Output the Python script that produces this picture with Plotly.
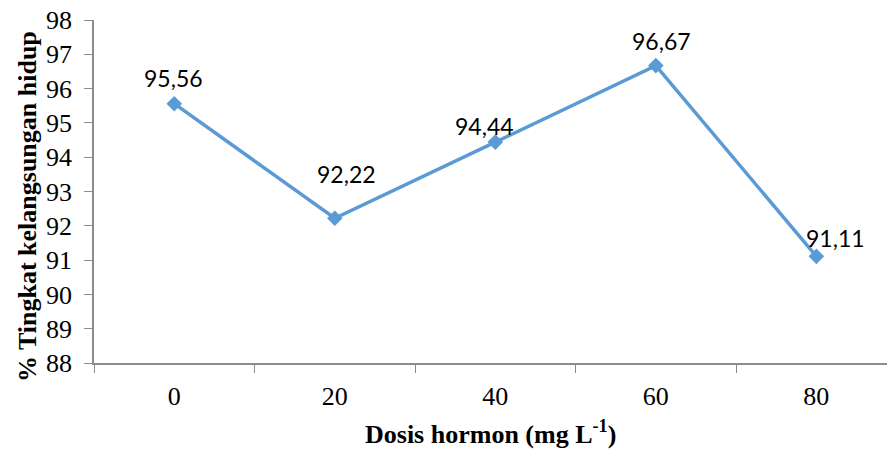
import plotly.graph_objects as go

# Hormone dose (mg/L) and survival rate (%)
doses = ["0", "20", "40", "60", "80"]
survival = [95.56, 92.22, 94.44, 96.67, 91.11]
y_ticks = [88, 89, 90, 91, 92, 93, 94, 95, 96, 97, 98]

# label offsets in pixels (dx, dy) relative to each point
label_offsets = [(-1, 26), (12, 44), (-11, 16), (6, 25), (19, 18)]

LINE_COLOR = "#5B9BD5"
AXIS_COLOR = "#8C8C8C"
SERIF = "Liberation Serif, Times New Roman, serif"

fig = go.Figure()
fig.add_trace(go.Scatter(
    x=doses, y=survival,
    mode="lines+markers",
    line=dict(color=LINE_COLOR, width=3.5),
    marker=dict(symbol="diamond", size=12, color=LINE_COLOR),
    cliponaxis=False,
    showlegend=False,
))

# value labels (category index used as x position)
for i, (v, (dx, dy)) in enumerate(zip(survival, label_offsets)):
    fig.add_annotation(
        x=i, y=v, xref="x", yref="y",
        text=f"{v:.2f}".replace(".", ","),
        showarrow=False, xshift=dx, yshift=dy,
        font=dict(family="Lato, Open Sans, sans-serif", size=23, color="#000"),
    )

fig.add_annotation(
    x=0.5, y=-0.257, xref="paper", yref="paper",
    text="<b>Dosis hormon (mg L<sup>-1</sup>)</b>",
    showarrow=False, xanchor="center", yanchor="bottom",
    font=dict(family=SERIF, size=26, color="#000"),
)
fig.add_annotation(
    x=-0.083, y=0.455, xref="paper", yref="paper",
    text="<b>% Tingkat kelangsungan hidup</b>",
    textangle=-90, showarrow=False, xanchor="center", yanchor="middle",
    font=dict(family=SERIF, size=26, color="#000"),
)

fig.update_layout(
    width=887, height=450,
    margin=dict(l=94, r=0, t=20, b=87),
    paper_bgcolor="white", plot_bgcolor="white",
    xaxis=dict(
        type="category", range=[-0.5, 4.44],
        tickson="boundaries", ticks="outside", ticklen=8, tickcolor=AXIS_COLOR,
        showline=True, linecolor=AXIS_COLOR, linewidth=1.5,
        showgrid=False, zeroline=False,
        tickfont=dict(family=SERIF, size=26, color="#000"),
        ticklabelstandoff=9,
    ),
    yaxis=dict(
        range=[88, 98], tickvals=y_ticks,
        ticks="outside", ticklen=8, tickcolor=AXIS_COLOR,
        showline=True, linecolor=AXIS_COLOR, linewidth=1.5,
        showgrid=False, zeroline=False,
        tickfont=dict(family=SERIF, size=26, color="#000"),
        ticklabelstandoff=7,
    ),
)

fig.write_html("out.html")
